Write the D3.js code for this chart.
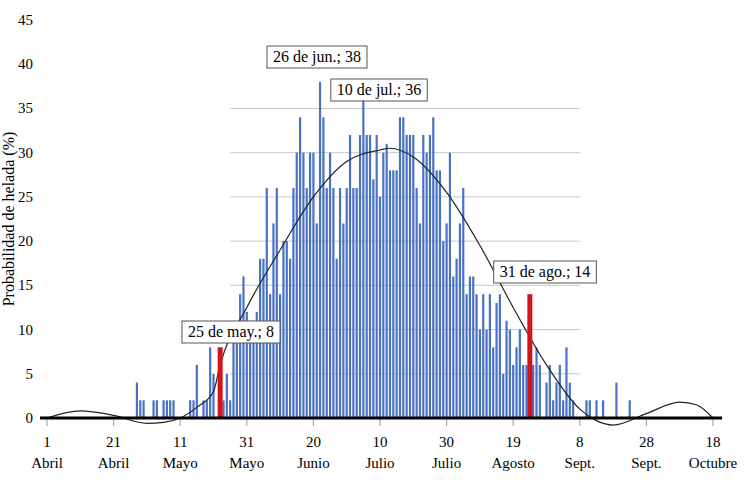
<!DOCTYPE html>
<html><head><meta charset="utf-8">
<script src="https://cdn.jsdelivr.net/npm/d3@7"></script>
<style>body{margin:0;background:#fff}</style>
</head><body><svg id="c" width="754" height="490" font-family="Liberation Serif, DejaVu Serif, serif"></svg>
<script>
const firstDay = 27;
const barValues = [4,2,2,0,0,2,2,0,2,2,2,2,0,0,0,0,2,2,6,0,2,2,8,5,0,5,2,5,2,9,10,14,16,12,11,11,12,18,18,26,14,22,26,14,20,20,18,26,30,34,30,26,30,30,22,38,34,26,30,
26,18,26,22,26,32,26,26,32,36,32,32,27,32,25,30,31,28,28,28,34,34,32,32,32,26,22,32,
30,32,34,28,28,20,22,30,16,18,22,26,14,16,16,14,10,14,10,14,8,13,14,5,11,10,6,
8,10,6,6,6,6,8,6,0,4,6,2,4,6,2,8,4,2,0,0,0,2,2,0,2,0,2,0,0,0,4,0,0,0,2];
const highlights = [{day:52,value:8,label:"25 de may.; 8"},{day:145,value:14,label:"31 de ago.; 14"}];
const notes = [{day:82,value:38,label:"26 de jun.; 38"},{day:95,value:36,label:"10 de jul.; 36"}];
const trendDays = [0,10,20,30,35,40,45,50,52,60,70,80,90,100,103,110,120,130,140,150,160,165,170,180,190,195,200];
const trendVals = [0,0.8,0.3,-0.6,-0.5,0,1.2,3,6,12.5,19,25,29,30.3,30.5,29.5,25.5,19.5,12.5,6,1,-0.3,-0.8,0.5,1.8,1.5,0];
const tickNums = ["1","21","11","31","20","10","30","19","8","28","18"];
const tickMonths = ["Abril","Abril","Mayo","Mayo","Junio","Julio","Julio","Agosto","Sept.","Sept.","Octubre"];
const yTicks = [0,5,10,15,20,25,30,35,40,45];

const svg = d3.select("#c");
const x = d3.scaleLinear().domain([0,200]).range([47,713]);
const y = d3.scaleLinear().domain([0,45]).range([418,20]);
const g = svg.append("g");
g.selectAll(".hg").data(yTicks.filter(v=>v>0&&v<=35)).enter().append("line")
 .attr("x1",x(55)).attr("x2",x(160)).attr("y1",d=>y(d)).attr("y2",d=>y(d)).attr("stroke","#c8c8c8").attr("stroke-width",1);
g.selectAll(".vg").data(d3.range(0,11)).enter().append("line")
 .attr("x1",d=>x(d*20)).attr("x2",d=>x(d*20)).attr("y1",y(0)).attr("y2",y(0)+8).attr("stroke","#999");
const bars = barValues.map((v,i)=>({day:firstDay+i,v})).filter(d=>d.v>0);
g.selectAll(".b").data(bars).enter().append("rect")
 .attr("x",d=>x(d.day)-1.1).attr("width",2.2).attr("y",d=>y(d.v)).attr("height",d=>y(0)-y(d.v)).attr("fill","#4a72c4");
g.append("path").datum(trendDays.map((d,i)=>[d,trendVals[i]]))
 .attr("d",d3.line().x(d=>x(d[0])).y(d=>y(d[1])).curve(d3.curveMonotoneX)).attr("fill","none").attr("stroke","#222").attr("stroke-width",1.2);
g.selectAll(".r").data(highlights).enter().append("rect")
 .attr("x",d=>x(d.day)-2.5).attr("width",5).attr("y",d=>y(d.value)).attr("height",d=>y(0)-y(d.value)).attr("fill","#d0161b");
g.append("line").attr("x1",40).attr("x2",722).attr("y1",y(0)).attr("y2",y(0)).attr("stroke","#000").attr("stroke-width",3);
tickNums.forEach((t,i)=>{
  g.append("text").attr("x",x(i*20)).attr("y",447).attr("text-anchor","middle").attr("font-size",15).text(t);
  g.append("text").attr("x",x(i*20)).attr("y",468).attr("text-anchor","middle").attr("font-size",15).text(tickMonths[i]);
});
g.selectAll(".yt").data(yTicks).enter().append("text").attr("x",33).attr("y",d=>y(d)+5).attr("text-anchor","end").attr("font-size",15).text(d=>d);
g.append("text").attr("transform","translate(14,219) rotate(-90)").attr("text-anchor","middle").attr("font-size",16).text("Probabilidad de helada (%)");
const boxes = [{label:notes[0].label,cx:317,cy:57},{label:notes[1].label,cx:379,cy:90},{label:highlights[0].label,cx:231,cy:332},{label:highlights[1].label,cx:545,cy:272}];
boxes.forEach(b=>{
  const t = g.append("text").attr("x",b.cx).attr("y",b.cy+5).attr("text-anchor","middle").attr("font-size",16).text(b.label);
  const bb = t.node().getBBox();
  g.insert("rect",()=>t.node()).attr("x",bb.x-6).attr("y",b.cy-11).attr("width",bb.width+12).attr("height",22).attr("fill","#fff").attr("stroke","#555");
});
</script></body></html>
